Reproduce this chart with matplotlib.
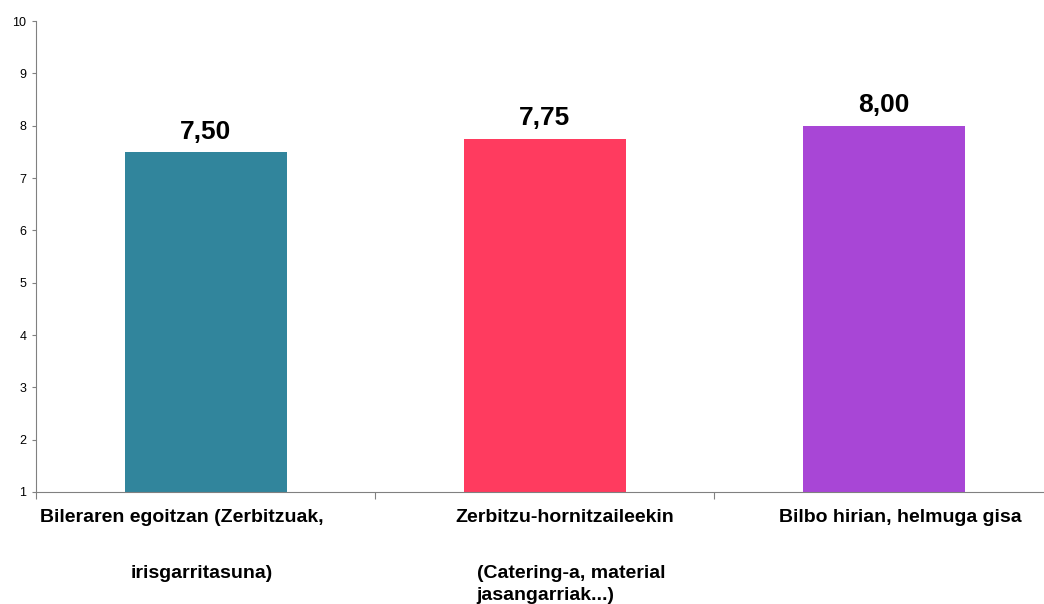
import matplotlib.pyplot as plt
from matplotlib.transforms import blended_transform_factory

# Data
categories = [
    ["Bileraren egoitzan (Zerbitzuak,", "irisgarritasuna)"],
    ["Zerbitzu-hornitzaileekin", "(Catering-a, material", "jasangarriak...)"],
    ["Bilbo hirian, helmuga gisa"],
]
values = [7.50, 7.75, 8.00]
colors = ["#31859C", "#FF3B5F", "#A846D6"]
yticks = list(range(1, 11))

plt.rcParams["font.family"] = ["Liberation Sans", "DejaVu Sans"]

fig = plt.figure(figsize=(10.44, 6.04), dpi=100)
ax = fig.add_axes([36 / 1044, 1 - 492 / 604, 1017 / 1044, 471 / 604])

x = list(range(len(values)))
ax.bar(x, values, width=162 / 339, color=colors, zorder=2)

for xi, v in zip(x, values):
    ax.annotate(f"{v:.2f}".replace(".", ","), (xi, v), xytext=(0, 6),
                textcoords="offset points", ha="center", va="bottom",
                fontsize=19, fontweight="bold")

ax.set_xlim(-0.5, 2.5)
ax.set_ylim(1, 10)
ax.set_yticks(yticks)
ax.tick_params(axis="y", labelsize=9, length=3, width=0.8, color="#808080", pad=4)
ax.set_xticks([-0.5, 0.5, 1.5, 2.5])
ax.set_xticklabels([])
ax.tick_params(axis="x", length=5, width=0.8, color="#808080")

for s in ["top", "right"]:
    ax.spines[s].set_visible(False)
ax.spines["left"].set_color("#808080")
ax.spines["bottom"].set_color("#808080")

# category labels, wrapped lines placed like the original
trans = blended_transform_factory(ax.transData, fig.transFigure)
line_layout = [
    [(-0.07, "center"), (-0.01, "center")],
    [(0.06, "center"), (0.08, "center"), (-0.2, "left")],
    [(0.05, "center")],
]
line_y = [[517, 573], [517, 573, 595], [517]]
for i, lines in enumerate(categories):
    for j, line in enumerate(lines):
        dx, ha = line_layout[i][j]
        ax.text(i + dx, 1 - line_y[i][j] / 604, line, transform=trans,
                ha=ha, va="center", fontsize=14, fontweight="bold",
                clip_on=False)

fig.savefig("out.png", dpi=100)
